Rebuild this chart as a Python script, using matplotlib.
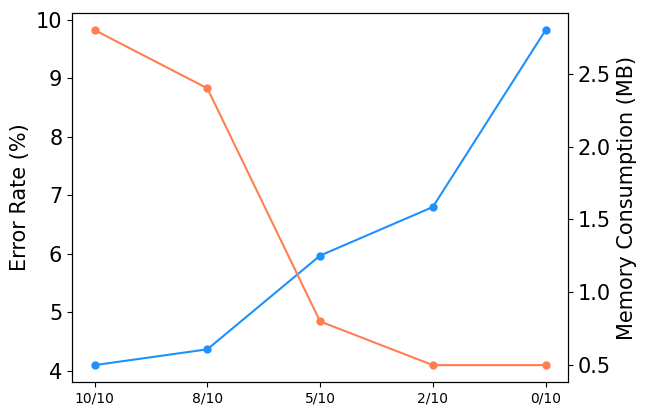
import matplotlib
matplotlib.use("Agg")
import matplotlib.pyplot as plt

ratios = ["10/10", "8/10", "5/10", "2/10", "0/10"]
error_rate = [4.1, 4.37, 5.97, 6.8, 9.82]
memory_mb = [2.8, 2.4, 0.8, 0.5, 0.5]

fig, ax = plt.subplots(figsize=(6.46, 4.16), dpi=100)
fig.subplots_adjust(left=0.1115, right=0.8795, top=0.968, bottom=0.082)

ax.plot(ratios, error_rate, color="#1E90FF", marker="o", markersize=5)
ax.set_ylabel("Error Rate (%)", fontsize=15)
ax.tick_params(axis="y", labelsize=15)
ax.tick_params(axis="x", labelsize=10)

ax2 = ax.twinx()
ax2.plot(ratios, memory_mb, color="#FF7F50", marker="o", markersize=5)
ax2.set_ylabel("Memory Consumption (MB)", fontsize=15)
ax2.tick_params(axis="y", labelsize=15)

fig.savefig("out.png")
